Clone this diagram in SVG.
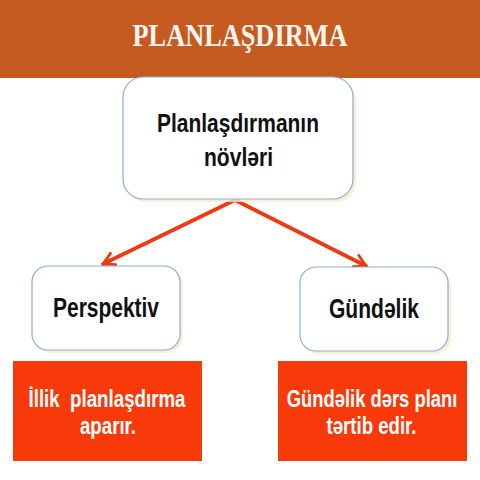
<svg xmlns="http://www.w3.org/2000/svg" width="480" height="480" viewBox="0 0 480 480">
<defs>
<style>
.box{fill:#ffffff;stroke:#8eaed0;stroke-width:1.2}
.shadow{fill:#f6eccc;opacity:0.8}
.red{fill:#f83a0a}
.t{font-family:"Liberation Sans",Arial,sans-serif;font-weight:bold;text-anchor:middle}
.dark{fill:#111111}
.white{fill:#ffffff}
.conn{stroke:#ee3a12;stroke-width:3.8;fill:none;stroke-linecap:round}
</style>
<marker id="ah" viewBox="0 0 12 12" refX="10" refY="6" markerWidth="4" markerHeight="4" orient="auto" markerUnits="strokeWidth">
<path d="M1,1 L10,6 L1,11" fill="none" stroke="#ee3a12" stroke-width="2.2" stroke-linecap="round" stroke-linejoin="round"/>
</marker>
</defs>
<rect x="0" y="0" width="480" height="480" fill="#ffffff"/>
<g id="header">
<rect x="0" y="0" width="480" height="78" fill="#c55b20"/>
<text x="240" y="46" font-family="Liberation Serif,'Times New Roman',serif" font-weight="bold" font-size="32" fill="#fdf5ee" text-anchor="middle" textLength="215" lengthAdjust="spacingAndGlyphs">PLANLAŞDIRMA</text>
</g>
<g id="connectors">
<line class="conn" x1="235" y1="200" x2="103" y2="264" marker-end="url(#ah)"/>
<line class="conn" x1="235" y1="200" x2="366" y2="266" marker-end="url(#ah)"/>
</g>
<g id="node-main">
<rect class="shadow" x="126" y="80" width="230" height="122" rx="20"/>
<rect class="box" x="123" y="77" width="230" height="122" rx="20"/>
<text class="t dark" x="238" y="132" font-size="26" textLength="162" lengthAdjust="spacingAndGlyphs">Planlaşdırmanın</text>
<text class="t dark" x="238.5" y="166" font-size="26" textLength="69" lengthAdjust="spacingAndGlyphs">növləri</text>
</g>
<g id="node-perspektiv">
<rect class="shadow" x="35" y="269" width="148" height="84" rx="16"/>
<rect class="box" x="32" y="266" width="148" height="84" rx="16"/>
<text class="t dark" x="106" y="317" font-size="27" textLength="106" lengthAdjust="spacingAndGlyphs">Perspektiv</text>
</g>
<g id="node-gundelik">
<rect class="shadow" x="303" y="270" width="148" height="84" rx="16"/>
<rect class="box" x="300" y="267" width="148" height="84" rx="16"/>
<text class="t dark" x="374" y="318" font-size="27" textLength="90" lengthAdjust="spacingAndGlyphs">Gündəlik</text>
</g>
<g id="node-illik">
<rect class="red" x="13" y="361" width="189" height="100"/>
<text class="t white" x="107" y="406.5" font-size="23" textLength="157" lengthAdjust="spacingAndGlyphs" xml:space="preserve">İllik  planlaşdırma</text>
<text class="t white" x="108" y="434" font-size="23" textLength="56" lengthAdjust="spacingAndGlyphs">aparır.</text>
</g>
<g id="node-ders">
<rect class="red" x="278" y="361" width="189" height="100"/>
<text class="t white" x="0" y="0" font-size="23" transform="translate(372,406.5) scale(0.8,1)">Gündəlik dərs planı</text>
<text class="t white" x="371.5" y="434" font-size="23" textLength="90" lengthAdjust="spacingAndGlyphs">tərtib edir.</text>
</g>
</svg>
